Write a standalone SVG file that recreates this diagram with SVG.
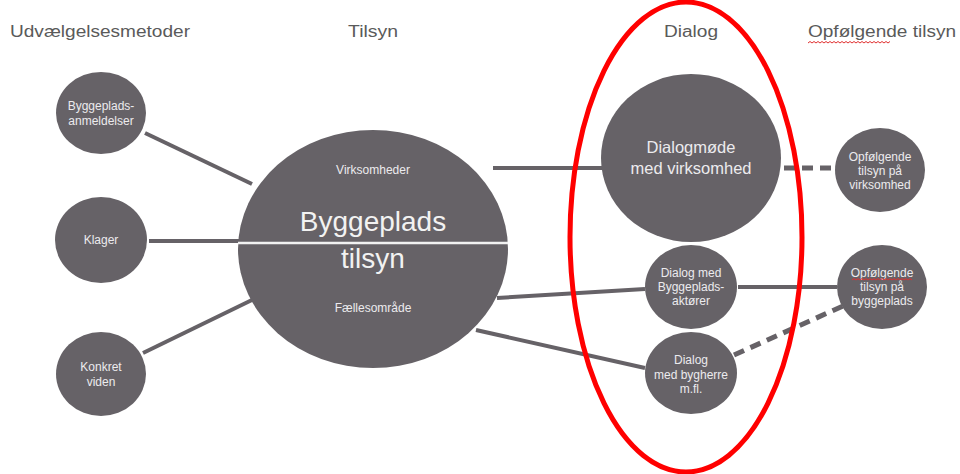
<svg xmlns="http://www.w3.org/2000/svg" width="960" height="474" viewBox="0 0 960 474">
<style>
.hdr{font-family:"Liberation Sans",Arial,sans-serif;font-size:16px;fill:#5a5a5a}
.node{fill:#666267}
.t{font-family:"Liberation Sans",Arial,sans-serif;font-size:12px;fill:#ecebee;text-anchor:middle}
.tm{font-family:"Liberation Sans",Arial,sans-serif;font-size:16.5px;fill:#ecebee;text-anchor:middle}
.tb{font-family:"Liberation Sans",Arial,sans-serif;font-size:28px;fill:#f2f2f2;text-anchor:middle}
.ln{stroke:#666267;stroke-width:4;fill:none}
.dash{stroke:#666267;stroke-width:5;fill:none;stroke-dasharray:11 7}
.sq{stroke:#e03030;stroke-width:1;fill:none}
</style>
<rect width="960" height="474" fill="#ffffff"/>
<g id="headers">
<text class="hdr" x="10" y="37" textLength="180" lengthAdjust="spacingAndGlyphs">Udvælgelsesmetoder</text>
<text class="hdr" x="348" y="37" textLength="50" lengthAdjust="spacingAndGlyphs">Tilsyn</text>
<text class="hdr" x="664" y="37" textLength="54" lengthAdjust="spacingAndGlyphs">Dialog</text>
<text class="hdr" x="808" y="37" textLength="148" lengthAdjust="spacingAndGlyphs">Opfølgende tilsyn</text>
<path class="sq" d="M808 43 l2 -1.5 l2 1.5 l2 -1.5 l2 1.5 l2 -1.5 l2 1.5 l2 -1.5 l2 1.5 l2 -1.5 l2 1.5 l2 -1.5 l2 1.5 l2 -1.5 l2 1.5 l2 -1.5 l2 1.5 l2 -1.5 l2 1.5 l2 -1.5 l2 1.5 l2 -1.5 l2 1.5 l2 -1.5 l2 1.5 l2 -1.5 l2 1.5 l2 -1.5 l2 1.5 l2 -1.5 l2 1.5 l2 -1.5 l2 1.5 l2 -1.5 l2 1.5 l2 -1.5 l2 1.5 l2 -1.5 l2 1.5 l2 -1.5 l2 1.5 l2 -1.5"/>
</g>
<g id="connectors">
<line class="ln" x1="145" y1="133" x2="252" y2="184"/>
<line class="ln" x1="149" y1="241" x2="240" y2="241"/>
<line class="ln" x1="143" y1="353" x2="254" y2="299"/>
<line class="ln" x1="493" y1="168" x2="602" y2="168"/>
<line class="ln" x1="497" y1="298" x2="645" y2="289"/>
<line class="ln" x1="476" y1="330" x2="645" y2="368"/>
<line class="ln" x1="738" y1="287" x2="837" y2="287"/>
<line class="dash" x1="784" y1="168" x2="835" y2="168"/>
<line class="dash" x1="734" y1="355" x2="843" y2="306"/>
</g>
<g id="n-anmeldelser">
<ellipse class="node" cx="101" cy="113" rx="45" ry="41"/>
<text class="t" x="101" y="110">Byggeplads-</text>
<text class="t" x="101" y="125">anmeldelser</text>
</g>
<g id="n-klager">
<ellipse class="node" cx="101" cy="240" rx="46" ry="43"/>
<text class="t" x="101" y="244">Klager</text>
</g>
<g id="n-konkret">
<ellipse class="node" cx="101" cy="374" rx="45" ry="42"/>
<text class="t" x="101" y="371">Konkret</text>
<text class="t" x="101" y="386">viden</text>
</g>
<g id="n-tilsyn">
<ellipse class="node" cx="373" cy="249" rx="135" ry="119"/>
<line x1="238" y1="243" x2="508" y2="243" stroke="#f2f2f2" stroke-width="2.5"/>
<text class="t" x="373" y="174">Virksomheder</text>
<text class="tb" x="373" y="231">Byggeplads</text>
<text class="tb" x="373" y="268">tilsyn</text>
<text class="t" x="373" y="312">Fællesområde</text>
</g>
<g id="n-dialogmoede">
<ellipse class="node" cx="691" cy="158" rx="90" ry="84"/>
<text class="tm" x="691" y="153">Dialogmøde</text>
<text class="tm" x="691" y="174">med virksomhed</text>
</g>
<g id="n-opf-virk">
<ellipse class="node" cx="880" cy="170" rx="45" ry="42"/>
<text class="t" x="880" y="161">Opfølgende</text>
<text class="t" x="880" y="175">tilsyn på</text>
<text class="t" x="880" y="189">virksomhed</text>
</g>
<g id="n-dialog-aktoerer">
<ellipse class="node" cx="691" cy="287" rx="46" ry="42"/>
<text class="t" x="691" y="277">Dialog med</text>
<text class="t" x="691" y="291">Byggeplads-</text>
<text class="t" x="691" y="305">aktører</text>
</g>
<g id="n-opf-bygge">
<ellipse class="node" cx="882" cy="287" rx="45" ry="42"/>
<text class="t" x="882" y="277">Opfølgende</text>
<path class="sq" d="M852 280 l2 -1.5 l2 1.5 l2 -1.5 l2 1.5 l2 -1.5 l2 1.5 l2 -1.5 l2 1.5 l2 -1.5 l2 1.5 l2 -1.5 l2 1.5 l2 -1.5 l2 1.5 l2 -1.5 l2 1.5 l2 -1.5 l2 1.5 l2 -1.5 l2 1.5 l2 -1.5 l2 1.5 l2 -1.5 l2 1.5 l2 -1.5 l2 1.5 l2 -1.5 l2 1.5 l2 -1.5 l2 1.5"/>
<text class="t" x="882" y="291">tilsyn på</text>
<text class="t" x="882" y="305">byggeplads</text>
</g>
<g id="n-dialog-bygherre">
<ellipse class="node" cx="691" cy="373" rx="46" ry="41"/>
<text class="t" x="691" y="364">Dialog</text>
<text class="t" x="691" y="379">med bygherre</text>
<text class="t" x="691" y="393">m.fl.</text>
</g>
<g id="highlight">
<ellipse cx="686" cy="237" rx="116" ry="235" fill="none" stroke="#ff0000" stroke-width="5"/>
</g>
</svg>
